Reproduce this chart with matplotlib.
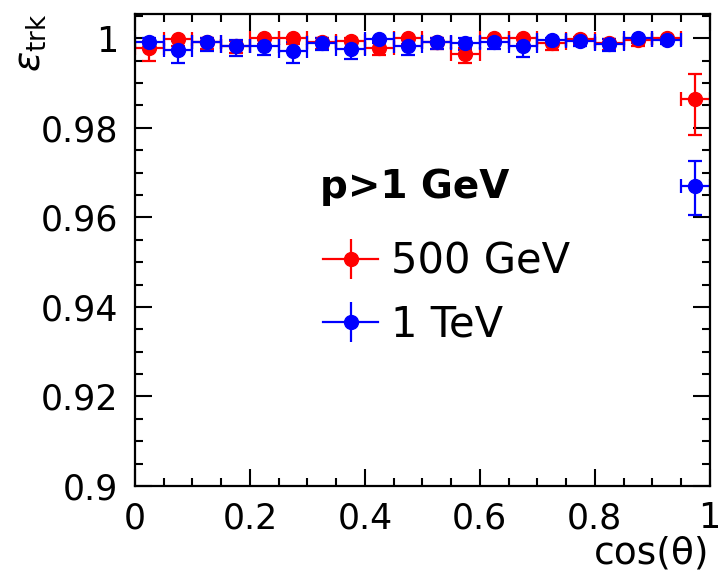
import numpy as np
import matplotlib
matplotlib.use("Agg")
import matplotlib.pyplot as plt
from matplotlib.lines import Line2D
from matplotlib.legend_handler import HandlerTuple
from matplotlib.ticker import MultipleLocator, FuncFormatter

plt.rcParams['font.family'] = ['DejaVu Sans']
plt.rcParams['mathtext.fontset'] = 'dejavusans'

# bin centres in cos(theta), half bin width
cos_theta = [0.025, 0.075, 0.125, 0.175, 0.225, 0.275, 0.325, 0.375, 0.425, 0.475,
             0.525, 0.575, 0.625, 0.675, 0.725, 0.775, 0.825, 0.875, 0.925, 0.975]
half_width = 0.025

eff_500 = [0.9979, 0.9998, 0.9992, 0.9983, 1.0000, 1.0000, 0.9992, 0.9994, 0.9979, 1.0000,
           0.9992, 0.9964, 1.0000, 1.0000, 0.9990, 0.9999, 0.9989, 0.9996, 1.0000, 0.9864]
err_500_lo = [0.0030, 0.0015, 0.0015, 0.0015, 0.0012, 0.0012, 0.0015, 0.0015, 0.0017, 0.0012,
              0.0015, 0.0020, 0.0012, 0.0012, 0.0015, 0.0012, 0.0015, 0.0012, 0.0010, 0.0079]
err_500_hi = [0.0015, 0.0003, 0.0008, 0.0010, 0.0003, 0.0003, 0.0008, 0.0006, 0.0012, 0.0003,
              0.0008, 0.0015, 0.0003, 0.0003, 0.0008, 0.0003, 0.0010, 0.0004, 0.0003, 0.0056]

eff_1tev = [0.9992, 0.9974, 0.9992, 0.9982, 0.9982, 0.9972, 0.9990, 0.9977, 0.9999, 0.9982,
            0.9992, 0.9990, 0.9992, 0.9983, 0.9997, 0.9994, 0.9987, 1.0000, 0.9997, 0.9670]
err_1tev_lo = [0.0015, 0.0030, 0.0020, 0.0022, 0.0020, 0.0026, 0.0015, 0.0022, 0.0010, 0.0020,
               0.0015, 0.0015, 0.0015, 0.0024, 0.0010, 0.0012, 0.0015, 0.0010, 0.0010, 0.0065]
err_1tev_hi = [0.0008, 0.0020, 0.0008, 0.0015, 0.0015, 0.0020, 0.0010, 0.0015, 0.0001, 0.0015,
               0.0008, 0.0010, 0.0008, 0.0015, 0.0003, 0.0006, 0.0012, 0.0001, 0.0003, 0.0056]

y_ticks = [0.9, 0.92, 0.94, 0.96, 0.98, 1.0]
x_ticks = [0, 0.2, 0.4, 0.6, 0.8, 1.0]

fig = plt.figure(figsize=(7.22, 5.73), dpi=100)
ax = fig.add_axes([0.187, 0.152, 0.796, 0.824])

common = dict(fmt='o', markersize=10, elinewidth=1.6, capsize=5, capthick=1.6)
ax.errorbar(cos_theta, eff_500, xerr=half_width, yerr=[err_500_lo, err_500_hi],
            color='#ff0000', **common)
ax.errorbar(cos_theta, eff_1tev, xerr=half_width, yerr=[err_1tev_lo, err_1tev_hi],
            color='#0000ff', **common)

ax.set_xlim(0, 1)
ax.set_ylim(0.9, 1.0055)
ax.set_xticks(x_ticks)
ax.set_yticks(y_ticks)
ax.xaxis.set_minor_locator(MultipleLocator(0.05))
ax.yaxis.set_minor_locator(MultipleLocator(0.005))
fmt = FuncFormatter(lambda v, p: f"{v:g}")
ax.xaxis.set_major_formatter(fmt)
ax.yaxis.set_major_formatter(fmt)

ax.tick_params(which='both', direction='in', top=True, right=True, width=1.5, labelsize=25)
ax.tick_params(which='major', length=12)
ax.tick_params(which='minor', length=6)
ax.tick_params(axis='x', which='major', pad=11)
ax.tick_params(axis='y', which='major', pad=12)
for s in ax.spines.values():
    s.set_linewidth(1.6)

ax.set_xlabel('cos(θ)', loc='right', fontsize=27, labelpad=0)
ax.set_ylabel(r'$\varepsilon_{\mathrm{trk}}$', loc='top', fontsize=27)
ax.yaxis.set_label_coords(-0.15, 1.0)

def legend_handle(c):
    return (Line2D([], [], color=c, lw=1.6),
            Line2D([], [], color=c, marker='o', markersize=10, ls='none'),
            Line2D([], [], color=c, marker='|', markersize=29, mew=1.6, ls='none'))

ax.text(0.322, 0.610, 'p>1 GeV', transform=ax.transAxes, fontsize=28,
        fontweight='bold', ha='left', va='baseline')
leg = ax.legend([legend_handle('#ff0000'), legend_handle('#0000ff')], ['500 GeV', '1 TeV'],
                handler_map={tuple: HandlerTuple(ndivide=1)},
                frameon=False, fontsize=30,
                loc='upper left', bbox_to_anchor=(0.291, 0.5636), borderpad=0,
                handlelength=1.32, handletextpad=0.3, labelspacing=0.5)

fig.savefig('out.png', dpi=100)
